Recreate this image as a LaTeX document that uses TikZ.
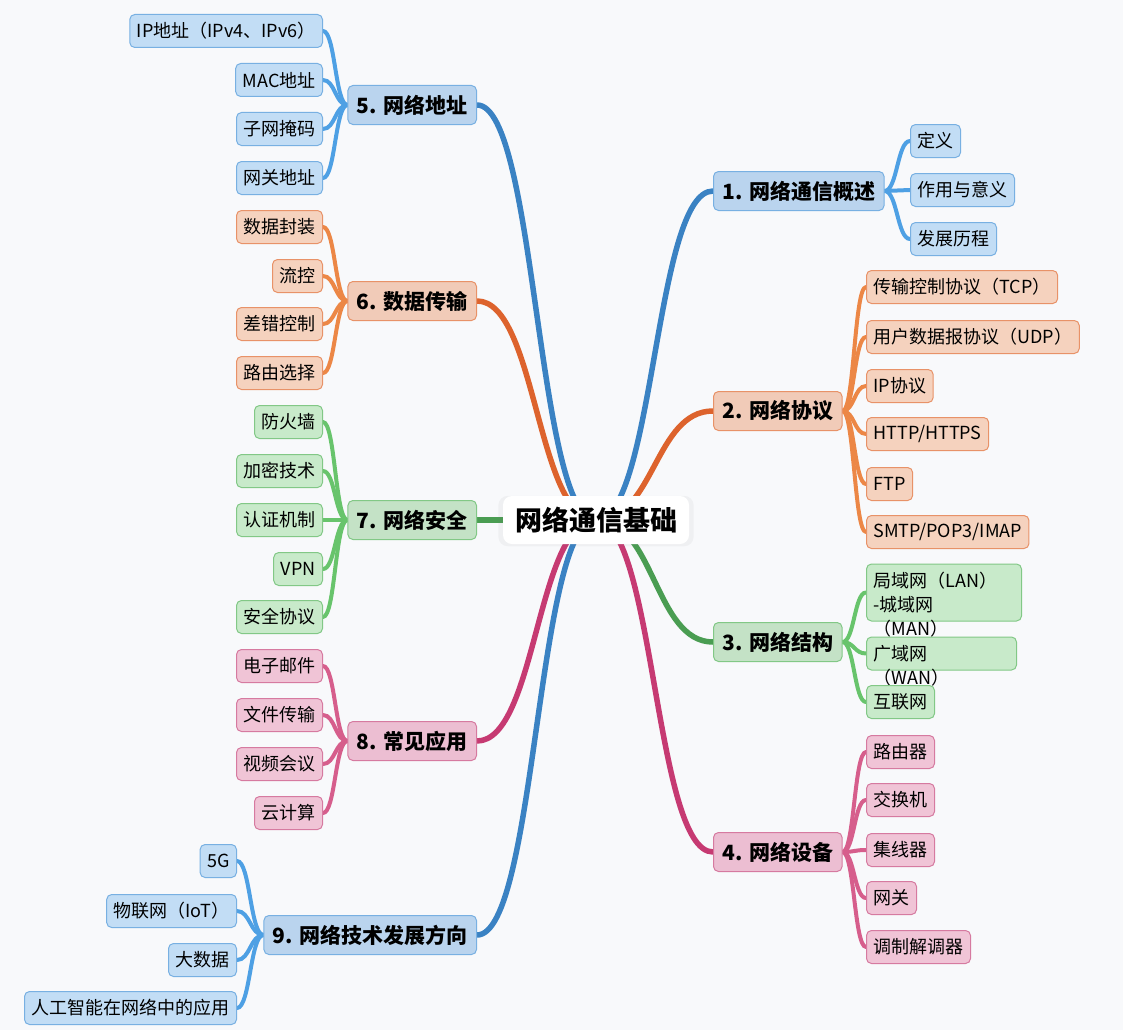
\documentclass[tikz,border=0pt]{standalone}
\usepackage{fontspec}
\setmainfont{Noto Sans CJK SC}
\usetikzlibrary{calc, shadows}
\definecolor{bgcol}{RGB}{248,249,251}
\definecolor{blueline}{RGB}{58,130,195}
\definecolor{bluetwig}{RGB}{78,160,228}
\definecolor{bluemain}{RGB}{186,212,238}
\definecolor{bluebox}{RGB}{194,221,245}
\definecolor{blueedge}{RGB}{120,176,226}
\definecolor{orangeline}{RGB}{221,99,45}
\definecolor{orangetwig}{RGB}{236,135,70}
\definecolor{orangemain}{RGB}{241,203,184}
\definecolor{orangebox}{RGB}{245,210,190}
\definecolor{orangeedge}{RGB}{232,146,104}
\definecolor{greenline}{RGB}{74,157,82}
\definecolor{greentwig}{RGB}{104,196,108}
\definecolor{greenmain}{RGB}{196,226,198}
\definecolor{greenbox}{RGB}{200,234,202}
\definecolor{greenedge}{RGB}{130,200,134}
\definecolor{pinkline}{RGB}{198,58,114}
\definecolor{pinktwig}{RGB}{214,94,140}
\definecolor{pinkmain}{RGB}{236,190,210}
\definecolor{pinkbox}{RGB}{240,196,214}
\definecolor{pinkedge}{RGB}{214,122,160}
\pgfdeclarelayer{bg}
\pgfdeclarelayer{links}
\pgfsetlayers{bg,links,main}
% horizontal S-curve between two anchors, kept behind the boxes
\newcommand{\mmlink}[3]{%
  \begin{pgfonlayer}{links}
  \draw[#1] let \p1=(#2), \p2=(#3) in (\p1) .. controls ({(\x1+\x2)/2},\y1) and ({(\x1+\x2)/2},\y2) .. (\p2);
  \end{pgfonlayer}}
% text that spills below its box
\newcommand{\spill}[1]{\leavevmode\rlap{\smash{\raisebox{-24pt}{#1}}}}

\begin{document}
\begin{tikzpicture}[x=1pt, y=-1pt,
  rootbox/.style={fill=white, rounded corners=9pt, font=\fontsize{27}{30}\selectfont\bfseries, minimum height=48pt, inner xsep=12pt, inner ysep=0pt, drop shadow={opacity=0.07, shadow xshift=0pt, shadow yshift=-1pt, shadow scale=1.05}},
  mainbox/.style={draw, rounded corners=5pt, line width=1pt, font=\fontsize{21}{24}\selectfont\bfseries, minimum height=39pt, inner xsep=9pt, inner ysep=0pt},
  leaf/.style={draw, rounded corners=5pt, line width=1pt, font=\fontsize{18}{24}\selectfont, minimum height=33pt, inner xsep=7pt, inner ysep=0pt},
  bmain/.style={mainbox, fill=bluemain, draw=blueedge},
  omain/.style={mainbox, fill=orangemain, draw=orangeedge},
  gmain/.style={mainbox, fill=greenmain, draw=greenedge},
  pmain/.style={mainbox, fill=pinkmain, draw=pinkedge},
  bleaf/.style={leaf, fill=bluebox, draw=blueedge},
  oleaf/.style={leaf, fill=orangebox, draw=orangeedge},
  gleaf/.style={leaf, fill=greenbox, draw=greenedge},
  pleaf/.style={leaf, fill=pinkbox, draw=pinkedge},
  trunk/.style={line width=5.5pt, line cap=round},
  twig/.style={line width=4pt, line cap=round},
]
  \useasboundingbox (0,0) rectangle (1123,1030);
  \begin{pgfonlayer}{bg}
    \fill[bgcol] (0,0) rectangle (1123,1030);
  \end{pgfonlayer}

  \node[rootbox] (root) at (596,520) {网络通信基础};

  % right branches
  \node[bmain, anchor=west] (intro) at (713,191) {1. 网络通信概述};
  \node[omain, anchor=west] (proto) at (713,411) {2. 网络协议};
  \node[gmain, anchor=west] (struct) at (713,642) {3. 网络结构};
  \node[pmain, anchor=west] (dev) at (713,852) {4. 网络设备};
  % left branches
  \node[bmain, anchor=east] (addr) at (477,105) {5. 网络地址};
  \node[omain, anchor=east] (trans) at (477,301) {6. 数据传输};
  \node[gmain, anchor=east] (sec) at (477,520) {7. 网络安全};
  \node[pmain, anchor=east] (app) at (477,741) {8. 常见应用};
  \node[bmain, anchor=east] (trend) at (477,935) {9. 网络技术发展方向};

  \mmlink{trunk, blueline}{root.center}{intro.west}
  \mmlink{trunk, orangeline}{root.center}{proto.west}
  \mmlink{trunk, greenline}{root.center}{struct.west}
  \mmlink{trunk, pinkline}{root.center}{dev.west}
  \mmlink{trunk, blueline}{root.center}{addr.east}
  \mmlink{trunk, orangeline}{root.center}{trans.east}
  \mmlink{trunk, greenline}{root.center}{sec.east}
  \mmlink{trunk, pinkline}{root.center}{app.east}
  \mmlink{trunk, blueline}{root.center}{trend.east}

  % leaves, right side
  \foreach \txt/\y [count=\i] in {定义/141, 作用与意义/190, 发展历程/239} {
    \node[bleaf, anchor=west] (intro-\i) at (910,\y) {\txt};
    \mmlink{twig, bluetwig}{intro.east}{intro-\i.west}
  }
  \foreach \txt/\y [count=\i] in {传输控制协议（TCP）/287, 用户数据报协议（UDP）/337, IP协议/386, {HTTP/HTTPS}/434, FTP/484, {SMTP/POP3/IMAP}/532} {
    \node[oleaf, anchor=west] (proto-\i) at (866,\y) {\txt};
    \mmlink{twig, orangetwig}{proto.east}{proto-\i.west}
  }
  \node[gleaf, anchor=west, text width=141pt, align=left, minimum height=57pt] (lan) at (866,592.5)
    {局域网（LAN）\\\spill{（MAN）}-城域网};
  \node[gleaf, anchor=west, text width=136pt, align=left] (wan) at (866,653.5)
    {\spill{（WAN）}广域网};
  \node[gleaf, anchor=west] (inet) at (866,702) {互联网};
  \mmlink{twig, greentwig}{struct.east}{lan.west}
  \mmlink{twig, greentwig}{struct.east}{wan.west}
  \mmlink{twig, greentwig}{struct.east}{inet.west}
  \foreach \txt/\y [count=\i] in {路由器/752, 交换机/800, 集线器/850, 网关/898, 调制解调器/947} {
    \node[pleaf, anchor=west] (dev-\i) at (866,\y) {\txt};
    \mmlink{twig, pinktwig}{dev.east}{dev-\i.west}
  }

  % leaves, left side
  \foreach \txt/\y [count=\i] in {IP地址（IPv4、IPv6）/31, MAC地址/80, 子网掩码/129, 网关地址/178} {
    \node[bleaf, anchor=east] (addr-\i) at (323,\y) {\txt};
    \mmlink{twig, bluetwig}{addr.west}{addr-\i.east}
  }
  \foreach \txt/\y [count=\i] in {数据封装/227, 流控/276, 差错控制/324, 路由选择/373} {
    \node[oleaf, anchor=east] (trans-\i) at (323,\y) {\txt};
    \mmlink{twig, orangetwig}{trans.west}{trans-\i.east}
  }
  \foreach \txt/\y [count=\i] in {防火墙/422, 加密技术/471, 认证机制/520, VPN/569, 安全协议/617} {
    \node[gleaf, anchor=east] (sec-\i) at (323,\y) {\txt};
    \mmlink{twig, greentwig}{sec.west}{sec-\i.east}
  }
  \foreach \txt/\y [count=\i] in {电子邮件/666, 文件传输/715, 视频会议/764, 云计算/813} {
    \node[pleaf, anchor=east] (app-\i) at (323,\y) {\txt};
    \mmlink{twig, pinktwig}{app.west}{app-\i.east}
  }
  \foreach \txt/\y [count=\i] in {5G/861, 物联网（IoT）/911, 大数据/960, 人工智能在网络中的应用/1008} {
    \node[bleaf, anchor=east] (trend-\i) at (237,\y) {\txt};
    \mmlink{twig, bluetwig}{trend.west}{trend-\i.east}
  }
\end{tikzpicture}
\end{document}
